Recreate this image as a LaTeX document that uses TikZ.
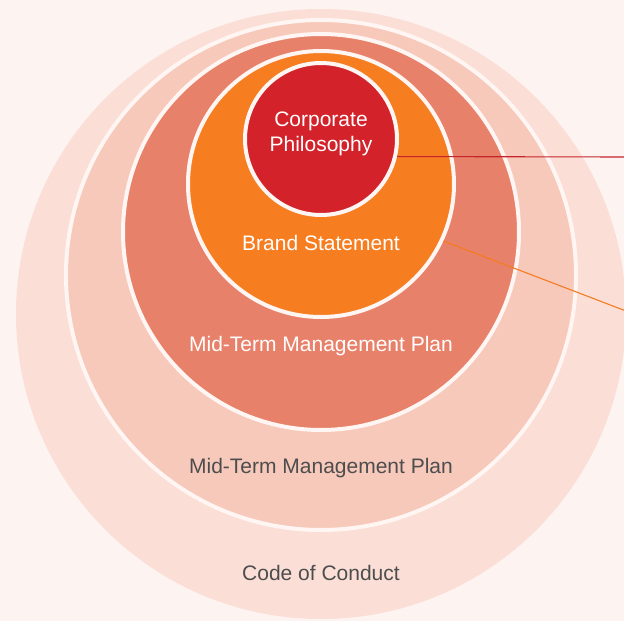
\documentclass[tikz,border=0pt]{standalone}
\usepackage{fontspec}
\setmainfont{Liberation Sans}
\definecolor{bgpink}{HTML}{FDF3F0}
\definecolor{ringA}{HTML}{FBDFD7}
\definecolor{ringB}{HTML}{F7C9BB}
\definecolor{ringC}{HTML}{E8816A}
\definecolor{ringD}{HTML}{F67D20}
\definecolor{coreR}{HTML}{D3222A}
\definecolor{rimwhite}{HTML}{FFF5F2}
\definecolor{labelgray}{HTML}{4D4D4D}
\definecolor{leadred}{HTML}{C4262C}
\definecolor{leadorange}{HTML}{F47B20}
\tikzset{
  layer/.style={circle, inner sep=0pt, outer sep=0pt},
  rimmed/.style={layer, draw=rimwhite, line width=4pt, outer sep=2pt},
  lbl/.style={font=\fontsize{21}{24.5}\selectfont, align=center, inner sep=0pt},
  lead/.style={line width=1.1pt}
}
\begin{document}
\begin{tikzpicture}[x=1pt,y=-1pt]
  \useasboundingbox (0,0) rectangle (624,621);
  \clip (0,0) rectangle (624,621);
  \fill[bgpink] (0,0) rectangle (624,621);

  % nested rings, outermost first
  \node[layer, fill=ringA, minimum size=610pt] (conduct) at (321,314) {};
  \node[rimmed, fill=ringB, minimum size=510pt] (plan2) at (321,275) {};
  \node[rimmed, fill=ringC, minimum size=396pt] (plan1) at (321,232) {};
  \node[rimmed, fill=ringD, minimum size=266pt] (brand) at (321,184) {};
  \node[rimmed, fill=coreR, minimum size=152pt] (core) at (321,139) {};

  % labels
  \node[lbl, text=white] (tcore) at (321,134) {Corporate\\Philosophy};
  \node[lbl, text=white] (tbrand) at (321,242.5) {Brand Statement};
  \node[lbl, text=white] (tplan1) at (321,346) {Mid-Term Management Plan};
  \node[lbl, text=labelgray] (tplan2) at (321,468) {Mid-Term Management Plan};
  \node[lbl, text=labelgray] (tconduct) at (321,572.5) {Code of Conduct};

  % leader lines running off to the right
  \coordinate (endcore) at (626,157);
  \coordinate (endbrand) at (626,311);
  \draw[lead, leadred] (core.-13.5) -- (endcore);
  \draw[lead, leadorange] (brand.-25) -- (endbrand);
\end{tikzpicture}
\end{document}
